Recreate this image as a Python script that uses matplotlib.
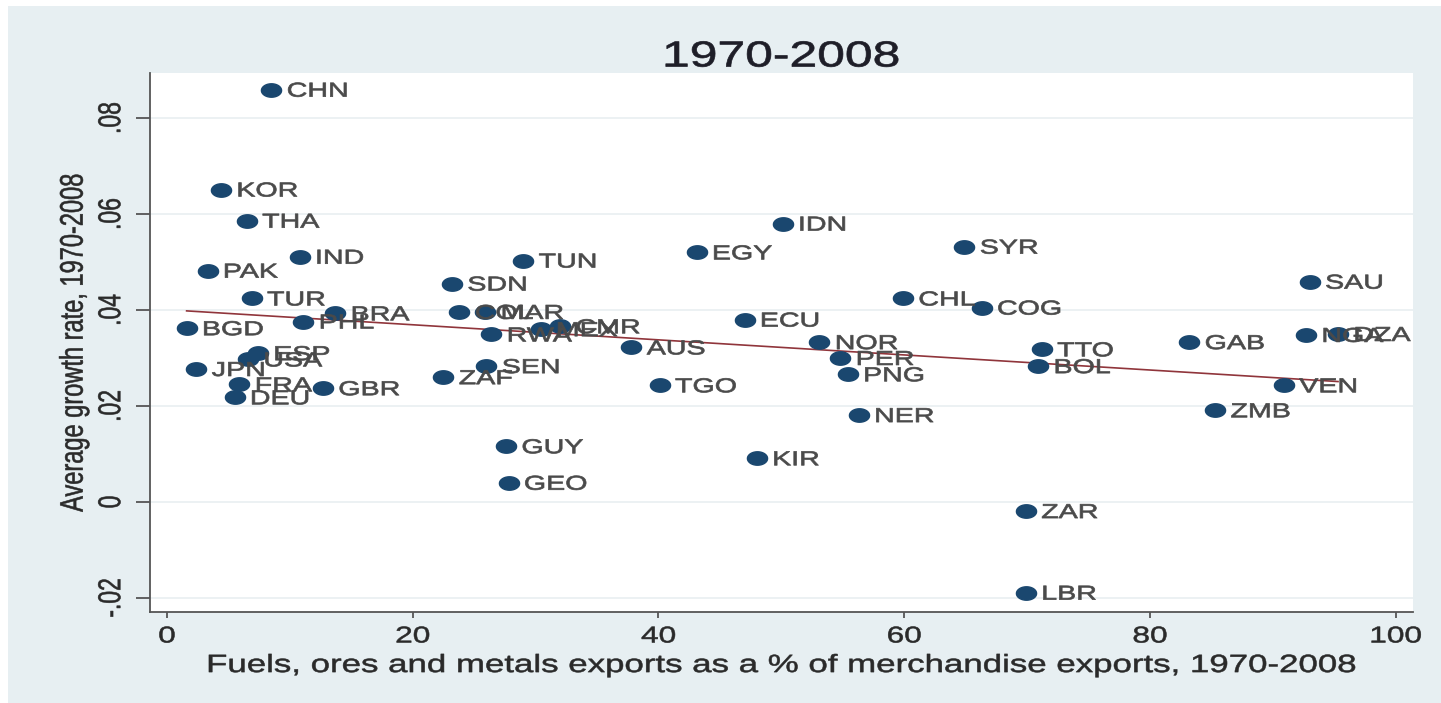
import numpy as np
import matplotlib
matplotlib.use("Agg")
import matplotlib.pyplot as plt
from matplotlib.patheffects import AbstractPathEffect
from matplotlib.transforms import Affine2D
from matplotlib.path import Path
from matplotlib.patches import Rectangle

# ---------------- data ----------------
countries = ["CHN", "KOR", "THA", "PAK", "IND", "TUR", "BRA", "PHL", "BGD", "ESP",
             "USA", "JPN", "FRA", "DEU", "GBR", "SDN", "TUN", "COL", "MAR", "RWA",
             "MEX", "CMR", "ZAF", "SEN", "GUY", "GEO", "AUS", "TGO", "EGY", "IDN",
             "ECU", "KIR", "NOR", "PER", "PNG", "NER", "SYR", "CHL", "COG", "TTO",
             "BOL", "ZAR", "LBR", "GAB", "ZMB", "SAU", "NGA", "DZA", "VEN"]
resource_share = [8.5, 4.4, 6.5, 3.3, 10.8, 6.9, 13.7, 11.1, 1.6, 7.4,
                  6.6, 2.4, 5.9, 5.5, 12.7, 23.2, 29.0, 23.8, 25.9, 26.4,
                  30.4, 32.0, 22.5, 26.0, 27.6, 27.8, 37.8, 40.1, 43.1, 50.1,
                  47.0, 48.0, 53.1, 54.8, 55.4, 56.3, 64.9, 59.9, 66.3, 71.2,
                  70.9, 69.9, 69.9, 83.2, 85.3, 93.0, 92.7, 95.3, 90.9]
growth_rate = [0.0859, 0.0651, 0.0586, 0.0482, 0.0511, 0.0424, 0.0393, 0.0376, 0.0362, 0.0310,
               0.0297, 0.0277, 0.0245, 0.0218, 0.0237, 0.0455, 0.0503, 0.0396, 0.0396, 0.0349,
               0.0360, 0.0366, 0.0260, 0.0283, 0.0116, 0.0040, 0.0322, 0.0243, 0.0520, 0.0580,
               0.0380, 0.0091, 0.0333, 0.0300, 0.0266, 0.0181, 0.0532, 0.0424, 0.0405, 0.0318,
               0.0283, -0.0019, -0.0189, 0.0333, 0.0191, 0.0459, 0.0348, 0.0350, 0.0243]
xticks = [0, 20, 40, 60, 80, 100]
xtick_labels = ["0", "20", "40", "60", "80", "100"]
yticks = [-0.02, 0, 0.02, 0.04, 0.06, 0.08]
ytick_labels = ["-.02", "0", ".02", ".04", ".06", ".08"]
title = "1970-2008"
xlabel = "Fuels, ores and metals exports as a % of merchandise exports, 1970-2008"
ylabel = "Average growth rate, 1970-2008"

# ---------------- style ----------------
S = 1.38  # horizontal stretch of the reference image
BG = "#e7eff2"
NAVY = "#1a476f"
MAROON = "#90353b"
plt.rcParams["font.family"] = ["Liberation Sans", "DejaVu Sans"]


class StretchX(AbstractPathEffect):
    """Stretch text horizontally (screen x) around an anchor; optional stroke."""

    def __init__(self, sx, anchor="center", lw=0.0):
        super().__init__()
        self.sx = sx
        self.anchor = anchor
        self.lw = lw

    def draw_path(self, renderer, gc, tpath, affine, rgbFace=None):
        if self.anchor == "left":
            ax_, ay_ = affine.transform((0, 0))
        else:
            ext = tpath.get_extents(affine)
            ax_, ay_ = (ext.x0 + ext.x1) / 2, (ext.y0 + ext.y1) / 2
        t = affine + Affine2D().translate(-ax_, -ay_).scale(self.sx, 1).translate(ax_, ay_)
        if self.lw > 0 and rgbFace is not None:
            gc0 = renderer.new_gc()
            gc0.copy_properties(gc)
            gc0.set_linewidth(self.lw)
            gc0.set_foreground(rgbFace)
            gc0.set_joinstyle("round")
            renderer.draw_path(gc0, tpath, t, rgbFace)
            gc0.restore()
        else:
            renderer.draw_path(gc, tpath, t, rgbFace)


W, H = 1441, 703
fig = plt.figure(figsize=(W / 100, H / 100), dpi=100, facecolor="white")
fig.patches.append(Rectangle((8 / W, 0), 1 - 8 / W, 1 - 6 / H, transform=fig.transFigure,
                             facecolor=BG, edgecolor="none", zorder=-10))

left, right, top, bottom = 150, 1413, 73, 612
ax = fig.add_axes([left / W, 1 - bottom / H, (right - left) / W, (bottom - top) / H])
ax.set_facecolor("white")
ax.set_xlim(-1.38, 101.4)
ax.set_ylim(-0.02292, 0.08938)

for s in ["top", "right"]:
    ax.spines[s].set_visible(False)
for s in ["left", "bottom"]:
    ax.spines[s].set_color("#555555")
    ax.spines[s].set_linewidth(1.3)

ax.set_yticks(yticks)
ax.set_yticklabels(ytick_labels, rotation=90, va="center", fontsize=16.5, color="#2a2a2a")
ax.set_xticks(xticks)
ax.set_xticklabels(xtick_labels, fontsize=16.5, color="#2a2a2a")
ax.tick_params(axis="y", length=10, width=1.3, color="#555555", pad=10)
ax.tick_params(axis="x", length=4, width=1.3, color="#555555", pad=5)
for lab in ax.get_xticklabels() + ax.get_yticklabels():
    lab.set_path_effects([StretchX(S, lw=0.4)])

ax.grid(axis="y", color="#e9eff1", linewidth=1.2)
ax.set_axisbelow(True)

# elliptical marker (image is stretched horizontally)
th = np.linspace(0, 2 * np.pi, 60)
ell = Path(np.column_stack([1.5 * np.cos(th), np.sin(th)]), closed=True)

x = np.array(resource_share)
y = np.array(growth_rate)

# linear fit
b, a = np.polyfit(x, y, 1)
xf = np.array([x.min(), x.max()])
ax.plot(xf, a + b * xf, color=MAROON, lw=1.2, zorder=2)

ax.plot(x, y, linestyle="none", marker=ell, ms=14.5, color=NAVY, zorder=3)

for c, xi, yi in zip(countries, x, y):
    ax.annotate(c, (xi, yi), xytext=(11.0, -5.0), textcoords="offset points",
                ha="left", va="baseline", fontsize=14.5, color="#4a4a4a",
                path_effects=[StretchX(S * 1.03, "left", lw=0.5)], zorder=4)

ax.set_xlabel(xlabel, fontsize=18, color="#2a2a2a", labelpad=4,
              path_effects=[StretchX(S * 1.01, lw=0.4)])
ax.set_ylabel(ylabel, fontsize=17, color="#2a2a2a", labelpad=10,
              path_effects=[StretchX(S, lw=0.4)])
fig.text((left + right) / 2 / W, 1 - 57 / H, title, ha="center", va="center",
         fontsize=26, color="#1e1e28", path_effects=[StretchX(S, lw=0.5)])

fig.savefig("out.png", dpi=100, facecolor=fig.get_facecolor())
